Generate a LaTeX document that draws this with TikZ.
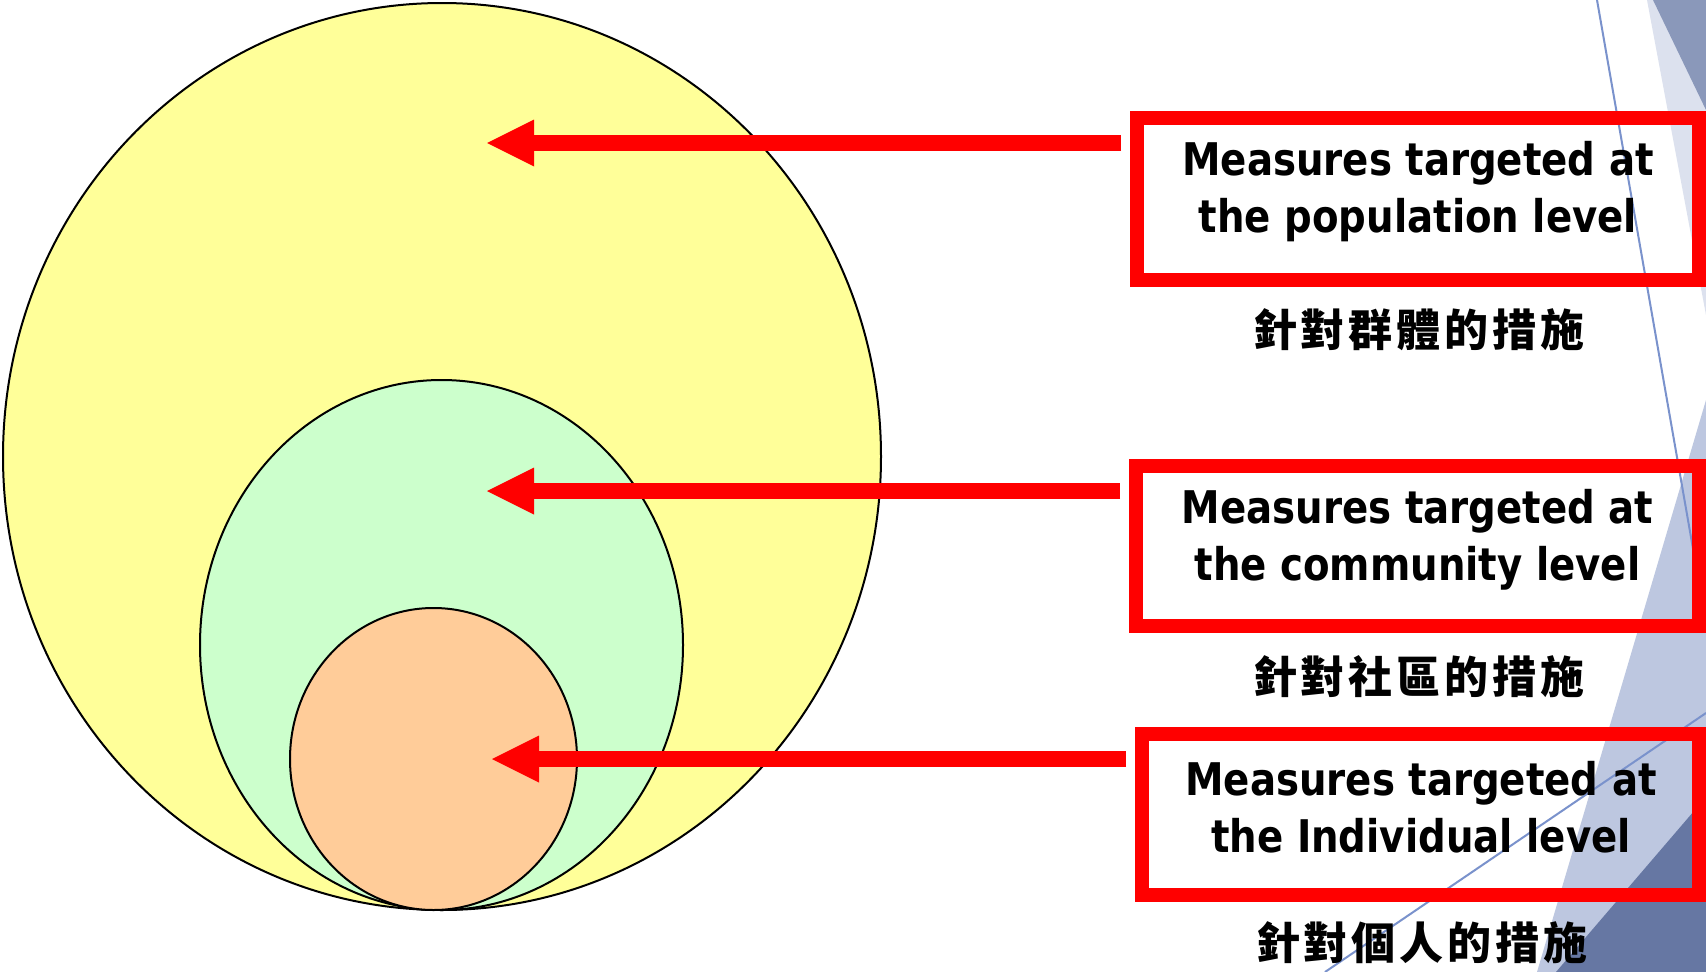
\documentclass[tikz,border=0pt]{standalone}
\usepackage{fontspec}
\usetikzlibrary{arrows.meta}
\newfontfamily\tahfont{DejaVu Sans}[FakeStretch=0.86]
\newfontfamily\cjkfont{Noto Sans CJK TC}
\newcommand\enfnt{\tahfont\bfseries\fontsize{45}{57}\selectfont}
\newcommand\zhfnt{\cjkfont\bfseries\fontsize{44}{50}\selectfont}
\newcommand\zs{\hspace{4pt}}
\definecolor{popyellow}{HTML}{FFFF99}
\definecolor{commgreen}{HTML}{CCFFCC}
\definecolor{indorange}{HTML}{FFCC99}
\definecolor{decolight}{HTML}{DCE1EE}
\definecolor{decodark}{HTML}{8A98BA}
\definecolor{decomid}{HTML}{BDC7E0}
\definecolor{decodeep}{HTML}{6677A3}
\definecolor{decoline}{HTML}{7A92CC}
\begin{document}
\begin{tikzpicture}[x=1pt,y=-1pt,
  ring/.style={draw=black,line width=2pt},
  redbox/.style={draw=red,line width=14pt,inner sep=0pt},
  entext/.style={font=\enfnt,align=center,inner sep=0pt},
  zhtext/.style={font=\zhfnt,inner sep=0pt},
  pointer/.style={draw=red,line width=15.5pt,-{Triangle[length=47pt,width=47pt,line width=0pt]},shorten <=9pt},
  decoline/.style={draw=decoline,line width=2pt}]
\useasboundingbox (0,0) rectangle (1706,972);
\fill[white] (0,0) rectangle (1706,972);
% background decorations
\fill[decolight] (1647,0) -- (1706,0) -- (1706,315) -- cycle;
\fill[decodark] (1653,0) -- (1706,0) -- (1706,110) -- cycle;
\fill[decomid] (1706,400) -- (1706,972) -- (1537,972) -- cycle;
\fill[decodeep] (1706,797) -- (1706,972) -- (1556,972) -- cycle;
\draw[decoline] (1597,0) -- (1706,623);
\draw[decoline] (1706,713) -- (1325,972);
% nested ellipses
\draw[ring,fill=popyellow] (442,456.5) ellipse [x radius=439pt, y radius=453.5pt];
\draw[ring,fill=commgreen] (441.5,645) ellipse [x radius=241.5pt, y radius=265pt];
\draw[ring,fill=indorange] (433.5,759) ellipse [x radius=143.5pt, y radius=151pt];
% boxes
\node[redbox,minimum width=562pt,minimum height=162pt] (b1) at (1418,199) {};
\node[redbox,minimum width=563pt,minimum height=160pt] (b2) at (1417.5,546) {};
\node[redbox,minimum width=557pt,minimum height=161pt] (b3) at (1420.5,814.5) {};
\node[entext] (t1) at (1418,191.5) {Measures targeted at\\the population level};
\node[entext] (t2) at (1417.5,539.5) {Measures targeted at\\the community level};
\node[entext] (t3) at (1421,807) {Measures targeted at\\the Individual level};
\node[zhtext] (c1) at (1419,330) {針\zs 對\zs 群\zs 體\zs 的\zs 措\zs 施};
\node[zhtext] (c2) at (1419,677) {針\zs 對\zs 社\zs 區\zs 的\zs 措\zs 施};
\node[zhtext] (c3) at (1422,943) {針\zs 對\zs 個\zs 人\zs 的\zs 措\zs 施};
% arrows
\coordinate (p1) at (487,143);
\coordinate (p2) at (487,491);
\coordinate (p3) at (492,759);
\draw[pointer] (b1.west |- p1) -- (p1);
\draw[pointer] (b2.west |- p2) -- (p2);
\draw[pointer] (b3.west |- p3) -- (p3);
\end{tikzpicture}
\end{document}
